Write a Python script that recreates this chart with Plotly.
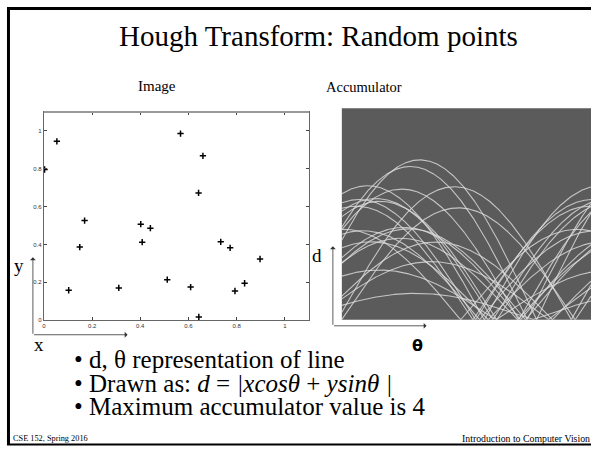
import numpy as np
import plotly.graph_objects as go

# ---- data ----
pts_x = [0.054, 0.003, 0.169, 0.149, 0.103, 0.311, 0.402, 0.442, 0.408, 0.512,
         0.567, 0.660, 0.642, 0.734, 0.773, 0.897, 0.609, 0.833, 0.793, 0.643]
pts_y = [0.945, 0.796, 0.526, 0.386, 0.158, 0.170, 0.507, 0.486, 0.412, 0.214,
         0.986, 0.868, 0.672, 0.414, 0.382, 0.323, 0.175, 0.195, 0.154, 0.017]
tick_vals = [0, 0.2, 0.4, 0.6, 0.8, 1]
tick_text = ["0", "0.2", "0.4", "0.6", "0.8", "1"]
theta_span = [0, 192]      # degrees shown in the accumulator
d_span = [0, 1.504]

W, H = 591, 449
def fx(p): return p / W
def fy(p): return 1 - p / H

fig = go.Figure()

# image-space points
fig.add_trace(go.Scatter(
    x=pts_x, y=pts_y, mode="markers", xaxis="x", yaxis="y",
    marker=dict(symbol="cross-thin", size=4.5, color="black",
                line=dict(width=1.5, color="black")),
    hoverinfo="skip", showlegend=False))

# accumulator curves d = |x cos(theta) + y sin(theta)|
theta = np.linspace(theta_span[0], theta_span[1], 900)
tr = np.deg2rad(theta)
for xi, yi in zip(pts_x, pts_y):
    d = np.abs(xi * np.cos(tr) + yi * np.sin(tr))
    fig.add_trace(go.Scatter(
        x=theta, y=d, mode="lines", xaxis="x2", yaxis="y2",
        line=dict(color="rgba(222,222,222,0.8)", width=1.1),
        hoverinfo="skip", showlegend=False))

axis_common = dict(showgrid=False, zeroline=False)
tickfont = dict(family="Liberation Sans", size=6, color="#333")
fig.update_layout(
    width=W, height=H, margin=dict(l=0, r=0, t=0, b=0),
    paper_bgcolor="white", plot_bgcolor="rgba(0,0,0,0)",
    xaxis=dict(domain=[fx(42), fx(308)], range=[0, 1.1], tickvals=tick_vals,
               ticktext=tick_text, ticks="inside", ticklen=3, tickcolor="#444",
               showline=True, linecolor="#666", linewidth=1, mirror="ticks",
               tickfont=tickfont, anchor="y", **axis_common),
    yaxis=dict(domain=[fy(322.3), fy(112.7)], range=[0, 1.1], tickvals=tick_vals,
               ticktext=tick_text, ticks="inside", ticklen=3, tickcolor="#444",
               showline=True, linecolor="#666", linewidth=1, mirror="ticks",
               tickfont=tickfont, anchor="x", **axis_common),
    xaxis2=dict(domain=[fx(341), 1.0], range=theta_span, visible=False,
                anchor="y2", **axis_common),
    yaxis2=dict(domain=[fy(322), fy(109)], range=d_span, visible=False,
                anchor="x2", **axis_common),
)

shapes = []
# accumulator background
shapes.append(dict(type="rect", xref="x2 domain", yref="y2 domain", x0=0, x1=1, y0=0, y1=1,
                   fillcolor="#5b5b5b", line=dict(width=0), layer="below"))
# gray top edge of the image axes
shapes.append(dict(type="line", xref="paper", yref="paper", x0=fx(42), x1=fx(308),
                   y0=fy(112.7), y1=fy(112.7), line=dict(color="#999", width=2)))
# slide border
shapes.append(dict(type="line", xref="paper", yref="paper", x0=fx(6.5), x1=fx(6.5),
                   y0=fy(8), y1=fy(448), line=dict(color="black", width=3)))
shapes.append(dict(type="line", xref="paper", yref="paper", x0=fx(5), x1=1.02,
                   y0=fy(8.5), y1=fy(8.5), line=dict(color="black", width=3)))
shapes.append(dict(type="line", xref="paper", yref="paper", x0=fx(5), x1=1.02,
                   y0=fy(447.5), y1=fy(447.5), line=dict(color="black", width=2)))
fig.update_layout(shapes=shapes)

serif = "Liberation Serif, Times New Roman, serif"
ann = []
def text(s, x, y, size, xa="center", ya="middle", fam=serif, color="black"):
    ann.append(dict(text=s, x=fx(x), y=fy(y), xref="paper", yref="paper",
                    xanchor=xa, yanchor=ya, showarrow=False, borderpad=0,
                    font=dict(family=fam, size=size, color=color)))

def arrow(x0, y0, x1, y1):
    ann.append(dict(text="", x=fx(x1), y=fy(y1), xref="paper", yref="paper",
                    ax=x0 - x1, ay=y0 - y1, axref="pixel", ayref="pixel",
                    showarrow=True, arrowhead=1, arrowsize=1.2, arrowwidth=0.8,
                    arrowcolor="#333"))

text("Hough Transform: Random points", 318, 36, 29)
text("Image", 156, 87, 15)
text("Accumulator", 363, 88, 14.5)
text("y", 17, 267, 19)
text("x", 37, 347, 19)
text("d", 316, 257, 19)
text("<b>θ</b>", 417, 348, 16, fam="DejaVu Sans")
arrow(31, 337, 31, 259)
arrow(31, 337, 126, 337)
arrow(332, 328, 332, 248)
arrow(332, 328, 426, 328)
text("• d, θ representation of line", 71, 362, 25, xa="left")
text("• Drawn as: <i>d</i> = <i>|xcos</i><i>θ</i> + <i>ysin</i><i>θ |</i>", 71, 386, 25, xa="left")
text("• Maximum accumulator value is 4", 71, 409, 25, xa="left")
text("CSE 152, Spring 2016", 10, 441, 8.3, xa="left")
text("Introduction to Computer Vision", 591, 441, 9.8, xa="right")
fig.update_layout(annotations=ann)

fig.write_html("out.html", config={"displayModeBar": False},
               post_script="document.body.style.margin='0';document.body.style.overflow='hidden';")
